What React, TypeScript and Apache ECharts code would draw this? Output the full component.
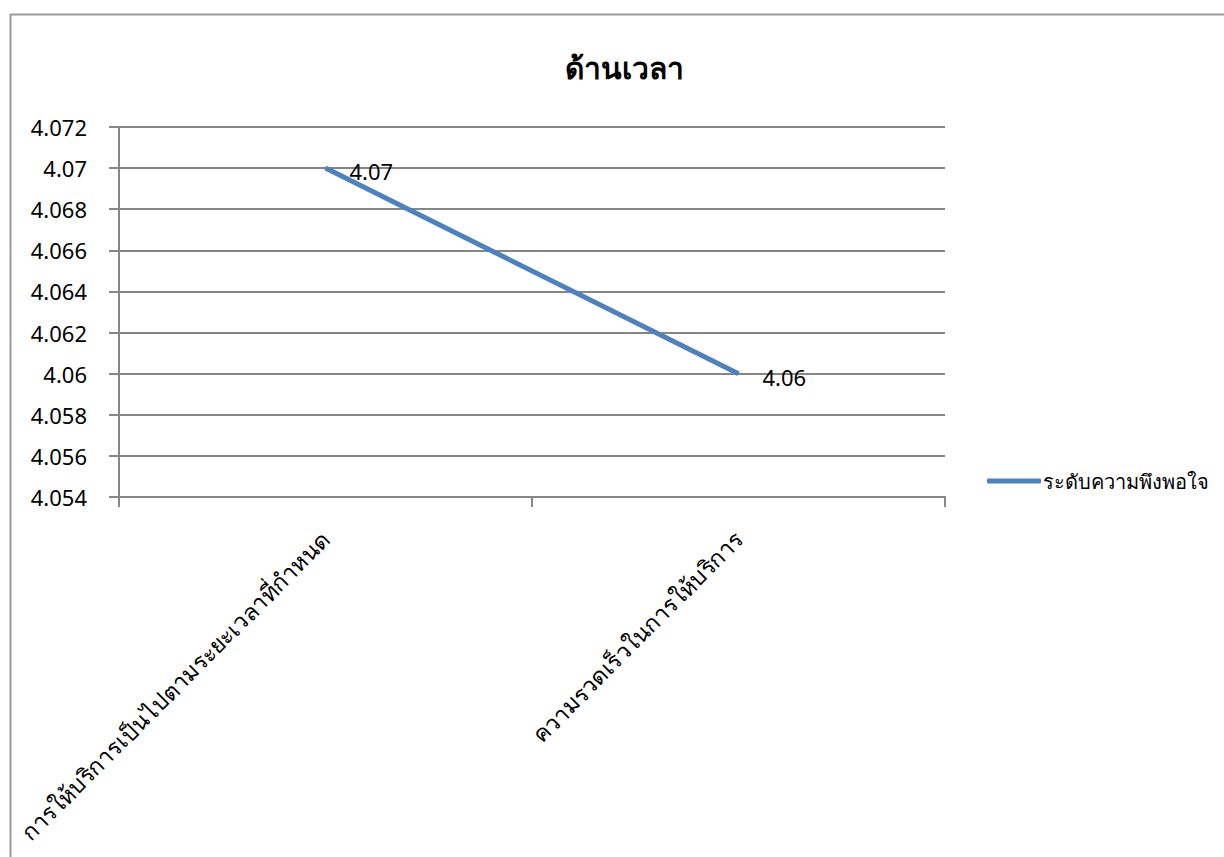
import React, { useEffect, useRef } from "react";
import * as echarts from "echarts";

const title = "ด้านเวลา";
const seriesName = "ระดับความพึงพอใจ";
const categories = [
  "การให้บริการเป็นไปตามระยะเวลาที่กำหนด",
  "ความรวดเร็วในการให้บริการ",
];
const values = [4.07, 4.06];
const yMin = 4.054;
const yMax = 4.072;
const yStep = 0.002;

const FONT = "'Noto Sans', 'DejaVu Sans', sans-serif";
const LINE_COLOR = "#4F81BD";

export default function App() {
  const ref = useRef<HTMLDivElement>(null);

  useEffect(() => {
    if (!ref.current) return;
    const chart = echarts.init(ref.current, null, { renderer: "svg" });
    chart.setOption({
      animation: false,
      backgroundColor: "#ffffff",
      textStyle: { fontFamily: FONT, color: "#000" },
      title: {
        text: title,
        left: 619,
        top: 47,
        textAlign: "center",
        textStyle: { fontSize: 30, fontWeight: "bold", color: "#000", fontFamily: FONT },
      },
      graphic: [
        {
          type: "rect",
          shape: { x: 10.5, y: 14.5, width: 1400, height: 1000 },
          style: { fill: "none", stroke: "#9a9a9a", lineWidth: 2 },
          silent: true,
          z: -1,
        },
      ],
      legend: {
        data: [seriesName],
        left: 982,
        top: 466,
        icon: "roundRect",
        itemWidth: 54,
        itemHeight: 5,
        itemGap: 4,
        itemStyle: { color: LINE_COLOR },
        textStyle: { fontSize: 20, color: "#000", fontFamily: FONT, padding: [0, 0, 0, -3] },
      },
      grid: { left: 119, right: 279, top: 127, bottom: 360, containLabel: false },
      xAxis: {
        type: "category",
        data: categories,
        boundaryGap: true,
        axisLine: { lineStyle: { color: "#868686", width: 2 } },
        axisTick: { show: true, length: 10, lineStyle: { color: "#868686", width: 2 } },
        axisLabel: {
          rotate: 45,
          margin: 38,
          fontSize: 23,
          color: "#000",
          fontFamily: FONT,
          interval: 0,
        },
        splitLine: { show: false },
      },
      yAxis: {
        type: "value",
        min: yMin,
        max: yMax,
        interval: yStep,
        axisLine: { show: true, lineStyle: { color: "#868686", width: 2 } },
        axisTick: { show: true, length: 10, lineStyle: { color: "#868686", width: 2 } },
        axisLabel: {
          margin: 32,
          fontSize: 22,
          color: "#000",
          fontFamily: FONT,
          formatter: (v: number) => String(parseFloat(v.toFixed(3))),
        },
        splitLine: { show: true, lineStyle: { color: "#868686", width: 2 } },
      },
      series: [
        {
          name: seriesName,
          type: "line",
          data: values,
          symbol: "circle",
          symbolSize: 2,
          showSymbol: true,
          lineStyle: { color: LINE_COLOR, width: 5 },
          itemStyle: { color: LINE_COLOR },
          label: {
            show: true,
            position: "right",
            distance: 23,
            offset: [0, 3],
            fontSize: 22,
            color: "#000",
            fontFamily: FONT,
            formatter: (p: any) => String(p.value),
          },
        },
      ],
    });
    return () => chart.dispose();
  }, []);

  return (
    <div
      ref={ref}
      style={{ position: "absolute", left: 0, top: 0, width: 1224, height: 857 }}
    />
  );
}
